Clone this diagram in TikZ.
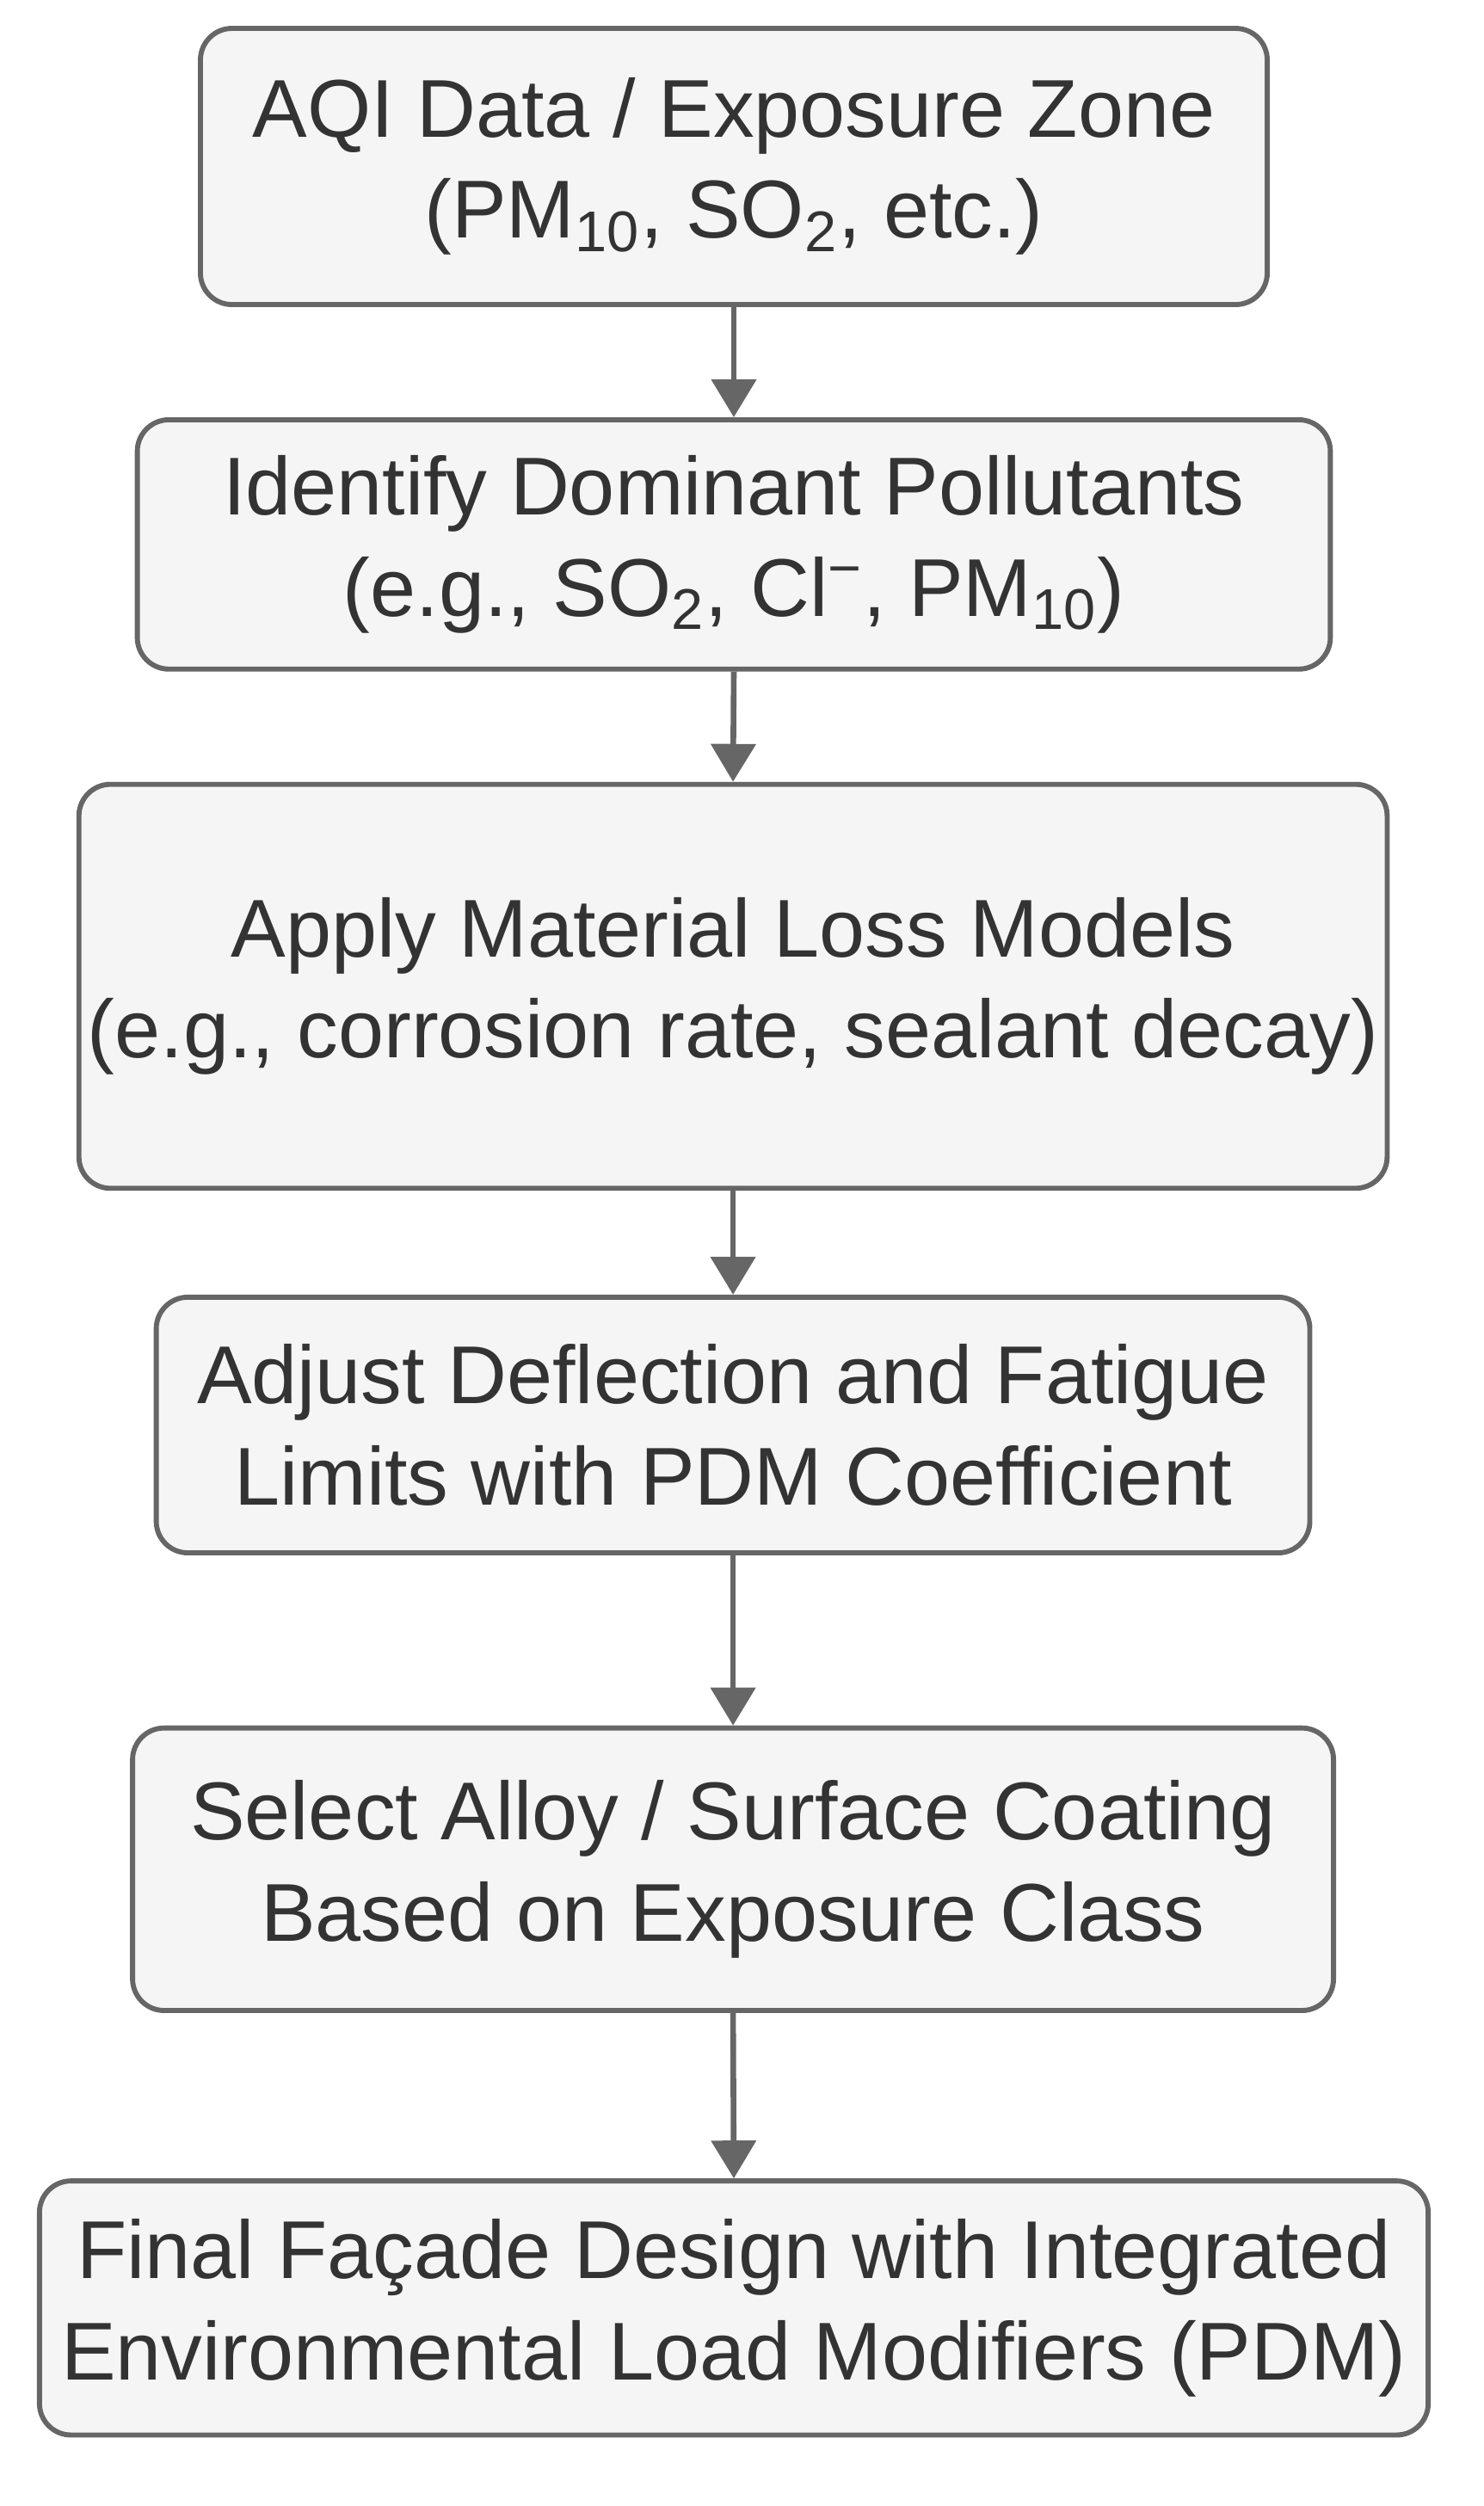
\documentclass[tikz,border=0pt]{standalone}
\usepackage{fontspec}
\setmainfont{Liberation Sans}
\usetikzlibrary{arrows.meta}
\definecolor{bx}{HTML}{F5F5F5}
\definecolor{ln}{HTML}{666666}
\definecolor{tx}{HTML}{333333}
\begin{document}
\begin{tikzpicture}[x=0.5pt,y=-0.5pt,
  box/.style={draw=ln,fill=bx,line width=1.6pt,rounded corners=10pt,align=center,text=tx,
    font=\fontsize{26}{32}\selectfont,inner sep=0pt},
  arr/.style={draw=ln,line width=1.8pt,-{Triangle[length=12pt,width=14pt]}}]
\useasboundingbox (0,0) rectangle (940,1588);
\newcommand{\bx}[6]{\node[box,minimum width={(#4-#2)*0.5pt},minimum height={(#5-#3)*0.5pt}] (#1) at ({(#2+#4)/2},{(#3+#5)/2}) {#6};}
\bx{a}{127}{18}{803}{193}{AQI Data / Exposure Zone\\(PM\textsubscript{10}, SO\textsubscript{2}, etc.)}
\bx{b}{87}{266}{843}{424}{Identify Dominant Pollutants\\(e.g., SO\textsubscript{2}, Cl\textsuperscript{\textminus}, PM\textsubscript{10})}
\bx{c}{50}{497}{879}{753}{Apply Material Loss Models\\(e.g., corrosion rate, sealant decay)}
\bx{d}{99}{822}{830}{984}{Adjust Deflection and Fatigue\\Limits with PDM Coefficient}
\bx{e}{84}{1095}{845}{1274}{Select Alloy / Surface Coating\\Based on Exposure Class}
\bx{f}{25}{1382}{905}{1543}{Final Façade Design with Integrated\\Environmental Load Modifiers (PDM)}
\draw[arr] (a.south) -- (b.north);
\draw[arr] (b.south) -- (c.north);
\draw[arr] (c.south) -- (d.north);
\draw[arr] (d.south) -- (e.north);
\draw[arr] (e.south) -- (f.north);
\end{tikzpicture}
\end{document}
